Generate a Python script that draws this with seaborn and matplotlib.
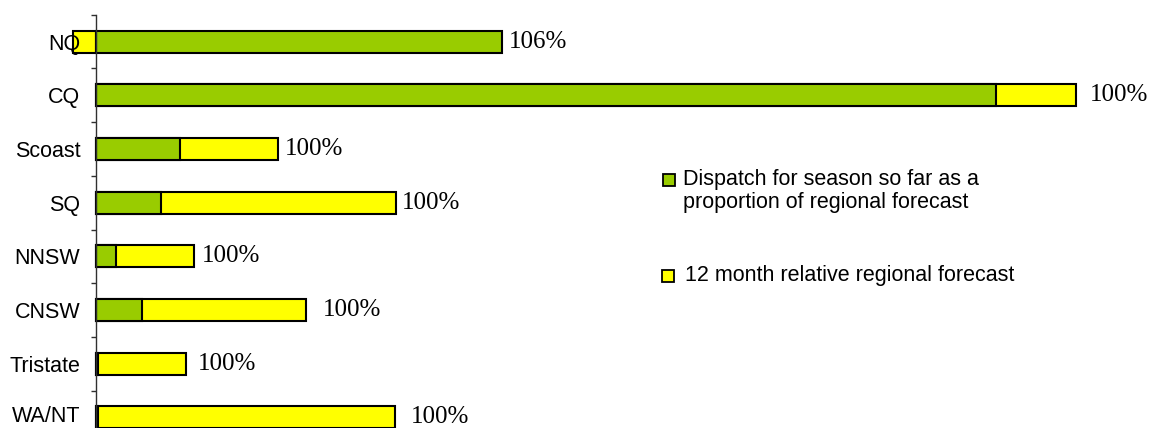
import numpy as np
import pandas as pd
import matplotlib
matplotlib.use("Agg")
import matplotlib.pyplot as plt
import matplotlib.transforms as mtransforms
from matplotlib.patches import Rectangle
import seaborn as sns

# ---- data (relative units) ----
regions = ["NQ", "CQ", "Scoast", "SQ", "NNSW", "CNSW", "Tristate", "WA/NT"]
dispatch = [406.8, 900.5, 84.5, 65.8, 20.2, 46.5, 2.5, 2.8]
forecast = [384.6, 980.2, 182.5, 300.2, 98.2, 210.2, 90.2, 299.8]
legend_labels = ["Dispatch for season so far as a\nproportion of regional forecast",
                 "12 month relative regional forecast"]

# ---- styling ----
GREEN = "#99CC00"
YELLOW = "#FFFF00"
label_pad_px = [7, 14, 7, 6, 8, 17, 12, 16]

sns.set_theme(style="white")
plt.rcParams["font.family"] = ["Liberation Sans", "DejaVu Sans"]
plt.rcParams["text.color"] = "black"
plt.rcParams["axes.axisbelow"] = False

W, H = 1160, 428
fig = plt.figure(figsize=(W / 100, H / 100), dpi=100)
# axes in pixel geometry (top tick at y=14.7, category step 53.7 px)
ax_left, ax_right = 60, 1100
ax_top, ax_bottom = 14.7, 14.7 + 8 * 53.7
ax = fig.add_axes([ax_left / W, (H - ax_bottom) / H,
                   (ax_right - ax_left) / W, (ax_bottom - ax_top) / H])

df = pd.DataFrame({"region": regions, "dispatch": dispatch, "forecast": forecast})
df["remainder"] = df["forecast"] - df["dispatch"]
# yellow segment: from dispatch to forecast (drawn as full bar behind green),
# or, if dispatch exceeds forecast, a negative stacked segment from 0
df["yellow"] = np.where(df["remainder"] >= 0, df["forecast"], df["remainder"])

sns.barplot(data=df, x="yellow", y="region", orient="h", color=YELLOW,
            saturation=1, width=0.41, edgecolor="black", linewidth=1.5, ax=ax)
sns.barplot(data=df, x="dispatch", y="region", orient="h", color=GREEN,
            saturation=1, width=0.41, edgecolor="black", linewidth=1.5, ax=ax)

origin_px = 95.5
ax.set_xlim(ax_left - origin_px, ax_right - origin_px)
ax.set_ylim(len(regions) - 0.5, -0.5)
ax.set_xlabel("")
ax.set_ylabel("")
ax.set_axisbelow(False)

for s in ["top", "right", "bottom"]:
    ax.spines[s].set_visible(False)
ax.spines["left"].set_position(("data", 0))
ax.spines["left"].set_color("#303030")
ax.spines["left"].set_linewidth(1.0)

ax.set_xticks([])
ax.set_yticks(range(len(regions)))
ax.set_yticklabels(regions)
ax.set_yticks(np.arange(-0.5, len(regions), 1.0), minor=True)
ax.tick_params(axis="y", which="major", length=0, pad=11, labelsize=15.5,
               labelcolor="black")
ax.tick_params(axis="y", which="minor", length=3.6, width=1.0,
               color="#303030", direction="out", left=True)

# lift the bottom category label slightly so it sits inside the image
fig.canvas.draw()
lift = mtransforms.ScaledTranslation(0, 3 / 100, fig.dpi_scale_trans)
last_label = ax.yaxis.get_major_ticks()[-1].label1
last_label.set_transform(last_label.get_transform() + lift)

# percentage labels
for i, (d, f) in enumerate(zip(dispatch, forecast)):
    end = max(d, f)
    pct = round(end / f * 100)
    ax.annotate(f"{pct}%", xy=(end, i), xytext=(label_pad_px[i] * 0.72, 0),
                textcoords="offset points", va="center", ha="left",
                fontsize=18, family=["Liberation Serif", "DejaVu Serif"],
                color="black", annotation_clip=False)

# legend (drawn like the original Excel legend)
def fx(px):
    return px / W

def fy(py):
    return (H - py) / H

fig.add_artist(Rectangle((fx(663), fy(186)), 12 / W, 12 / H,
                         transform=fig.transFigure, facecolor=GREEN,
                         edgecolor="black", linewidth=1.3))
fig.add_artist(Rectangle((fx(662), fy(282)), 12 / W, 12 / H,
                         transform=fig.transFigure, facecolor=YELLOW,
                         edgecolor="black", linewidth=1.3))
l1, l2 = legend_labels[0].split("\n")
fig.text(fx(683), fy(185), l1, fontsize=15.5, va="baseline", ha="left", color="black")
fig.text(fx(683), fy(208), l2, fontsize=15.5, va="baseline", ha="left", color="black")
fig.text(fx(685), fy(281), legend_labels[1], fontsize=15.5, va="baseline", ha="left",
         color="black")

fig.savefig("out.png", dpi=100)
